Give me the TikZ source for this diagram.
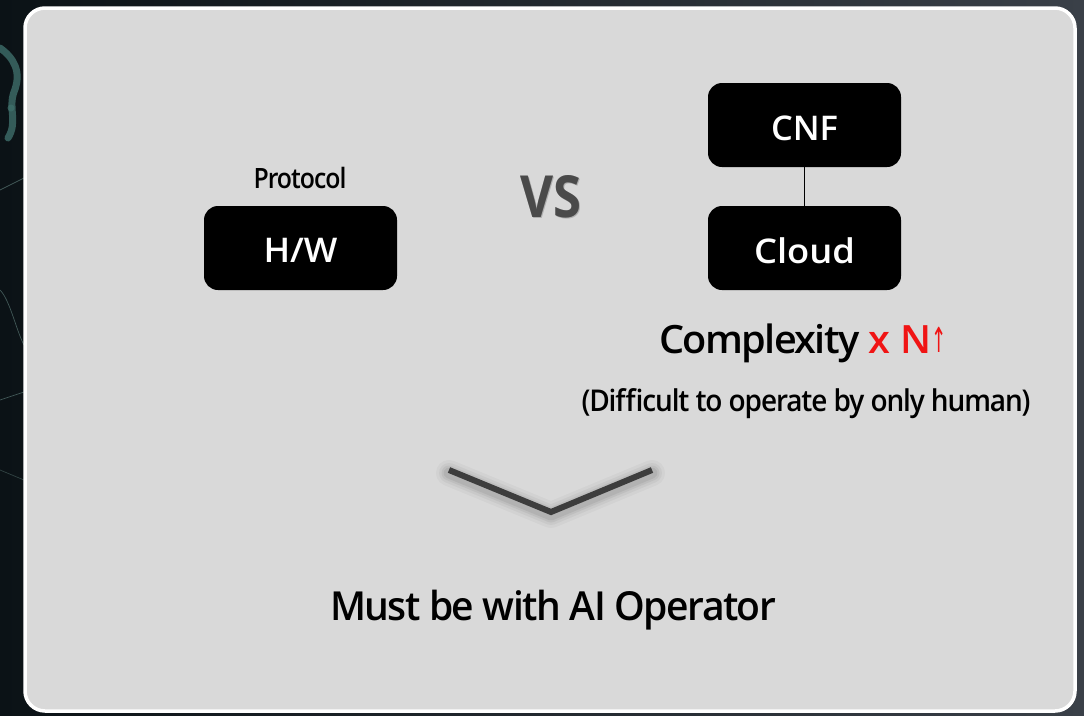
\documentclass[tikz,border=0pt]{standalone}
\usepackage{fontspec}
\usepackage{graphicx}
\setmainfont{Open Sans}
\setsansfont{Open Sans}
% semibold face for box labels and for the tightly set running labels
\IfFontExistsTF{Open Sans SemiBold}
  {\newfontfamily\semifont{Open Sans SemiBold}
   \newfontfamily\tightfont{Open Sans SemiBold}[LetterSpace=-4]}
  {\IfFontExistsTF{Open Sans Semibold}
    {\newfontfamily\semifont{Open Sans Semibold}
     \newfontfamily\tightfont{Open Sans Semibold}[LetterSpace=-4]}
    {\newfontfamily\semifont{Open Sans}[FakeBold=1.5]
     \newfontfamily\tightfont{Open Sans}[FakeBold=1.2]}}
\newfontfamily\arrowfont{DejaVu Sans}

\definecolor{panelgray}{HTML}{D9D9D9}
\definecolor{vsgray}{HTML}{4A4A4A}
\definecolor{chevgray}{HTML}{3D3D3D}
\definecolor{bgdark}{HTML}{0B1216}
\definecolor{bgright}{HTML}{3A4048}
\definecolor{teal}{HTML}{3E6E6A}
\definecolor{hotred}{HTML}{F01414}

% stretch a piece of text horizontally to a given width (in pt)
\newsavebox\fitbox
\newcommand\fitto[2]{\sbox\fitbox{#2}%
  \pgfmathsetmacro\fitratio{#1/\wd\fitbox}%
  \scalebox{\fitratio}[1]{\usebox\fitbox}}

\tikzset{
  blackbox/.style={fill=black, rounded corners=14pt, minimum width=193pt,
    minimum height=84pt, inner sep=0pt},
  boxtext/.style={anchor=base, inner sep=0pt, text=white,
    font=\semifont\fontsize{34}{34}\selectfont},
  label text/.style={anchor=base, inner sep=0pt, text=black},
  link/.style={draw=black, line width=0.9pt},
}

\begin{document}
\begin{tikzpicture}[x=1pt, y=-1pt]
  \useasboundingbox (0,0) rectangle (1084,715);

  % dark textured backdrop
  \shade[left color=bgdark, right color=bgright] (0,0) rectangle (1084,715);
  \draw[teal, line width=7pt, line cap=round, opacity=0.8]
    (0,48) .. controls (14,58) and (22,72) .. (14,92)
    .. controls (8,108) and (18,122) .. (8,138);
  \fill[teal, opacity=0.8] (11,108) circle (3.5pt);
  \draw[teal!60!gray, line width=0.7pt, opacity=0.7] (0,190) -- (24,178);
  \draw[teal!60!gray, line width=0.7pt, opacity=0.7] (0,400) -- (24,392);
  \draw[teal!60!gray, line width=0.7pt, opacity=0.7] (0,290) .. controls (10,300) and (16,330) .. (24,345);
  \draw[teal!60!gray, line width=0.7pt, opacity=0.5] (0,470) -- (24,480);

  % main panel
  \draw[fill=panelgray, draw=white, line width=3.5pt, rounded corners=20pt]
    (25,8) rectangle (1075,711);

  % left side: hardware
  \node[blackbox] (hw) at (300.5,248) {};
  \node[boxtext] (hwtxt) at (300.5,262) {\fitto{74}{H/W}};
  \node[label text, font=\tightfont\fontsize{28}{28}\selectfont]
    (proto) at (300,188) {\fitto{93}{Protocol}};

  % versus mark with soft shadow
  \foreach \d/\o in {3/0.08,2/0.12,1/0.18}{
    \node[label text, text=black, opacity=\o, font=\bfseries\fontsize{58}{58}\selectfont]
      at (551+\d*0.3,217+\d*0.6) {\fitto{61}{VS}};
  }
  \node[label text, text=vsgray, font=\bfseries\fontsize{58}{58}\selectfont]
    (vs) at (551,217) {\fitto{61}{VS}};

  % right side: cloud native stack
  \node[blackbox] (cnf) at (804.5,125) {};
  \node[boxtext] (cnftxt) at (804.5,140.5) {\fitto{67}{CNF}};
  \node[blackbox] (cloud) at (804.5,248) {};
  \node[boxtext] (cloudtxt) at (804.5,263) {\fitto{101}{Cloud}};
  \draw[link] (cnf.south) -- (cloud.north);

  \node[label text, font=\tightfont\fontsize{39}{39}\selectfont]
    (cplx) at (803,353) {\fitto{288}{Complexity
      \textcolor{hotred}{\semifont x N}\textcolor{hotred}{\arrowfont\fontsize{30}{30}\selectfont\raisebox{1pt}{\scalebox{0.6}[1.15]{↑}}}}};
  \node[label text, font=\tightfont\fontsize{30}{30}\selectfont]
    (note) at (806,411.5) {\fitto{449}{(Difficult to operate by only human)}};

  % down chevron with blurred shadow
  \coordinate (cl) at (449,470);
  \coordinate (cm) at (551,512);
  \coordinate (cr) at (652,470);
  \foreach \w/\o in {26/0.03,20/0.04,15/0.05,11/0.06}{
    \draw[black, line width=\w pt, opacity=\o, line cap=round, line join=round]
      ([yshift=-3pt]cl) -- ([yshift=-3pt]cm) -- ([yshift=-3pt]cr);
  }
  \draw[chevgray, line width=6pt, line join=miter] (cl) -- (cm) -- (cr);

  % conclusion
  \node[label text, font=\tightfont\fontsize{40}{40}\selectfont]
    (concl) at (553,620) {\fitto{446}{Must be with AI Operator}};
\end{tikzpicture}
\end{document}
